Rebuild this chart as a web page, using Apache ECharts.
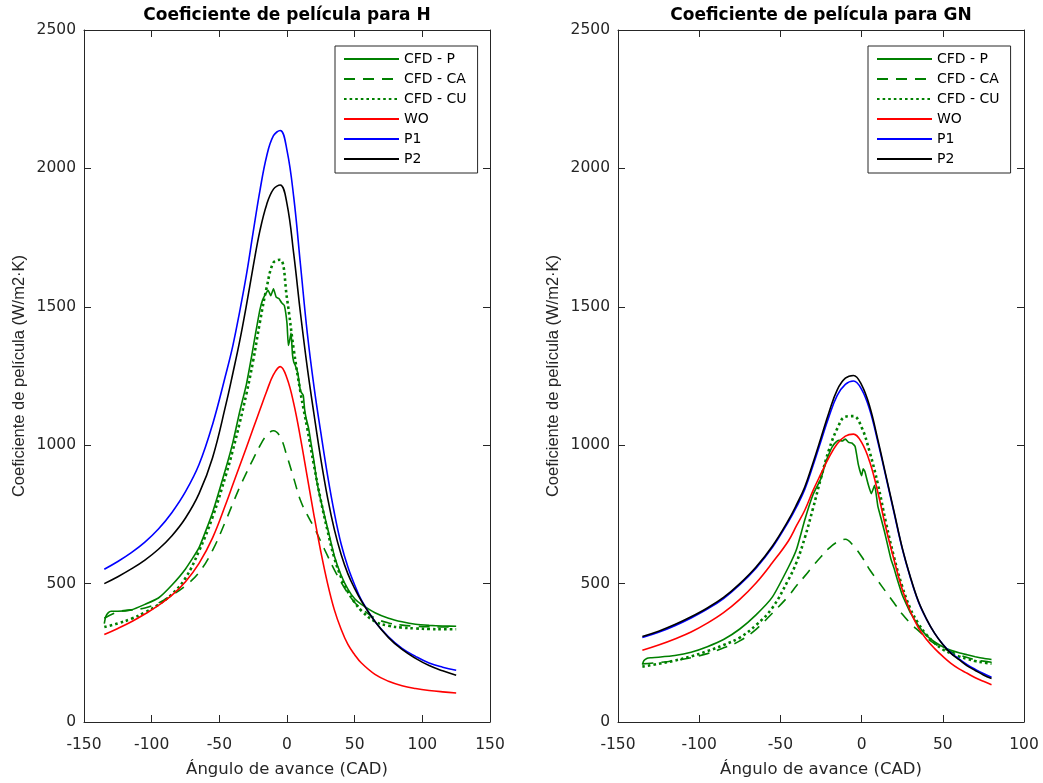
<!DOCTYPE html>
<html>
<head>
<meta charset="utf-8">
<script src="https://cdn.jsdelivr.net/npm/echarts@6/dist/echarts.min.js"></script>
<style>
html, body { margin: 0; padding: 0; background: #fff; }
#main { width: 1043px; height: 783px; }
</style>
</head>
<body>
<div id="main"></div>
<script>
// panel H (left)
var hX = [-135, -125, -115, -105, -95, -85, -75, -65, -55, -45, -40, -35, -30, -25, -20, -15, -10, -5, 0, 5, 10, 15, 20, 25, 30, 35, 40, 45, 50, 55, 65, 75, 85, 95, 105, 115, 125];
var hCA = [375, 398, 405, 412, 430, 458, 492, 540, 620, 730, 790, 848, 900, 950, 998, 1036, 1052, 1030, 960, 880, 800, 748, 703, 652, 600, 550, 505, 465, 432, 410, 375, 358, 350, 346, 344, 343, 343];
var hCU = [343, 356, 373, 396, 424, 462, 520, 618, 740, 895, 982, 1080, 1185, 1305, 1445, 1570, 1660, 1670, 1530, 1345, 1190, 1060, 925, 800, 690, 592, 522, 470, 432, 402, 363, 348, 341, 338, 336, 335, 335];
var hWO = [316, 338, 362, 390, 421, 458, 507, 573, 665, 790, 858, 925, 992, 1060, 1128, 1195, 1255, 1284, 1242, 1150, 1025, 885, 745, 615, 500, 405, 335, 280, 243, 213, 172, 147, 131, 121, 114, 109, 105];
var hP1 = [552, 580, 612, 650, 697, 757, 832, 930, 1075, 1260, 1360, 1482, 1615, 1770, 1920, 2045, 2118, 2137, 2065, 1895, 1650, 1405, 1210, 1045, 890, 755, 643, 560, 495, 440, 363, 308, 266, 237, 213, 198, 187];
var hP2 = [500, 525, 553, 585, 624, 673, 737, 825, 955, 1150, 1260, 1375, 1505, 1645, 1775, 1870, 1925, 1940, 1872, 1690, 1475, 1280, 1110, 950, 810, 695, 605, 535, 482, 437, 363, 305, 262, 230, 204, 185, 169];
// CFD - P is noisy near TDC, so it has its own angles
var hCfdPX = [-135, -134, -132, -130, -125, -115, -105, -95, -85, -75, -65, -55, -45, -40, -35, -30, -26, -23, -20, -18, -16, -14, -12, -10, -8, -6, -4, -2, 0, 1, 2, 3, 4, 5, 6, 8, 10, 12, 13, 14, 16, 18, 20, 22, 25, 30, 35, 40, 45, 50, 55, 65, 75, 85, 95, 105, 115, 125];
var hCfdP = [355, 380, 395, 400, 400, 405, 425, 448, 495, 553, 630, 757, 920, 1010, 1120, 1220, 1325, 1410, 1490, 1525, 1545, 1560, 1540, 1565, 1535, 1530, 1515, 1505, 1440, 1360, 1380, 1405, 1330, 1300, 1290, 1260, 1195, 1180, 1130, 1100, 1060, 1000, 940, 870, 800, 700, 600, 530, 480, 445, 425, 395, 375, 362, 353, 349, 347, 346];

// panel GN (right)
var gX = [-135, -125, -115, -105, -95, -85, -75, -65, -55, -45, -40, -35, -30, -25, -20, -15, -10, -5, 0, 5, 10, 15, 20, 25, 30, 35, 40, 45, 50, 55, 60, 65, 70, 75, 80];
var gCA = [210, 215, 222, 232, 247, 268, 293, 335, 393, 455, 493, 527, 563, 597, 628, 650, 660, 636, 598, 550, 510, 470, 430, 390, 357, 330, 305, 283, 267, 254, 243, 233, 225, 220, 216];
var gCU = [200, 210, 222, 237, 256, 278, 305, 350, 412, 515, 578, 665, 770, 882, 985, 1060, 1103, 1105, 1065, 975, 860, 720, 595, 490, 410, 355, 315, 285, 262, 248, 237, 228, 220, 215, 211];
var gWO = [259, 278, 300, 325, 357, 395, 443, 502, 575, 655, 710, 765, 835, 897, 957, 1005, 1033, 1040, 1010, 940, 830, 700, 585, 480, 400, 340, 298, 265, 237, 212, 192, 176, 160, 147, 135];
var gP1 = [305, 324, 348, 376, 408, 446, 496, 556, 630, 724, 778, 840, 925, 1015, 1105, 1180, 1220, 1232, 1202, 1128, 1012, 885, 755, 627, 522, 434, 371, 320, 281, 250, 228, 207, 190, 175, 162];
var gP2 = [309, 328, 352, 380, 412, 450, 500, 560, 635, 730, 786, 849, 935, 1027, 1120, 1200, 1242, 1252, 1218, 1140, 1020, 890, 760, 630, 525, 436, 372, 320, 280, 248, 225, 203, 186, 170, 157];
var gCfdPX = [-135, -134, -132, -130, -125, -115, -105, -95, -85, -75, -65, -55, -45, -40, -35, -30, -25, -22, -20, -18, -16, -14, -12, -10, -8, -6, -4, -2, 0, 1, 2, 4, 6, 8, 10, 12, 14, 16, 18, 20, 22, 25, 28, 30, 35, 40, 45, 50, 55, 60, 65, 70, 75, 80];
var gCfdP = [208, 222, 230, 232, 234, 240, 252, 272, 298, 336, 387, 451, 560, 625, 730, 820, 880, 940, 970, 995, 1010, 1018, 1015, 1022, 1010, 1008, 995, 930, 890, 915, 905, 860, 825, 855, 780, 735, 690, 640, 590, 555, 515, 460, 420, 395, 348, 312, 289, 272, 259, 250, 243, 236, 230, 226];

var legendNames = ['CFD - P', 'CFD - CA', 'CFD - CU', 'WO', 'P1', 'P2'];
var titles = ['Coeficiente de película para H', 'Coeficiente de película para GN'];

var green = '#008000';
var axisColor = '#262626';
var font = 'DejaVu Sans';

function pairs(xs, ys) {
    var arr = [];
    for (var i = 0; i < xs.length; i++) {
        arr.push([xs[i], ys[i]]);
    }
    return arr;
}

function line(name, xs, ys, panel, color, type, width, smooth) {
    return {
        name: name,
        type: 'line',
        xAxisIndex: panel * 2,
        yAxisIndex: panel * 2,
        data: pairs(xs, ys),
        symbol: 'none',
        smooth: smooth,
        lineStyle: { color: color, width: width, type: type },
        itemStyle: { color: color },
        silent: true
    };
}

function panelSeries(panel, cfdX, cfdP, xs, ca, cu, wo, p1, p2) {
    return [
        line('CFD - P', cfdX, cfdP, panel, green, 'solid', 1.6, 0.15),
        line('CFD - CA', xs, ca, panel, green, [11, 8], 1.6, 0.4),
        line('CFD - CU', xs, cu, panel, green, [2.6, 3], 2.6, 0.4),
        line('WO', xs, wo, panel, '#ff0000', 'solid', 1.6, 0.4),
        line('P1', xs, p1, panel, '#0000ff', 'solid', 1.6, 0.4),
        line('P2', xs, p2, panel, '#000000', 'solid', 1.6, 0.4)
    ];
}

function xAxes(grid, max) {
    var common = {
        type: 'value', gridIndex: grid, min: -150, max: max, interval: 50,
        axisLine: { onZero: false, lineStyle: { color: axisColor, width: 1 } },
        axisTick: { inside: true, length: 7, lineStyle: { color: axisColor } },
        splitLine: { show: false }
    };
    var bottom = echarts.util.merge({
        position: 'bottom',
        axisLabel: { margin: 15, color: axisColor, fontSize: 15.5, fontFamily: font },
        name: 'Ángulo de avance (CAD)', nameLocation: 'middle', nameGap: 39,
        nameTextStyle: { color: axisColor, fontSize: 16.5, fontFamily: font }
    }, common, true);
    var top = echarts.util.merge({ position: 'top', axisLabel: { show: false } }, common, true);
    return [bottom, top];
}

function yAxes(grid) {
    var common = {
        type: 'value', gridIndex: grid, min: 0, max: 2500, interval: 500,
        axisLine: { show: true, onZero: false, lineStyle: { color: axisColor, width: 1 } },
        axisTick: { show: true, inside: true, length: 7, lineStyle: { color: axisColor } },
        splitLine: { show: false }
    };
    var left = echarts.util.merge({
        position: 'left',
        axisLabel: {
            margin: 8, color: axisColor, fontSize: 15.5, fontFamily: font,
            formatter: function(v) { return String(v); }
        },
        name: 'Coeficiente de película (W/m2·K)', nameLocation: 'middle', nameGap: 56,
        nameTextStyle: { color: axisColor, fontSize: 16.5, fontFamily: 'Liberation Sans' }
    }, common, true);
    var right = echarts.util.merge({ position: 'right', axisLabel: { show: false } }, common, true);
    return [left, right];
}

function legendBox(left) {
    return {
        data: legendNames,
        orient: 'vertical',
        left: left,
        top: 46,
        itemWidth: 55,
        itemHeight: 14,
        itemGap: 6,
        padding: [6, 11, 7, 8],
        borderColor: axisColor,
        borderWidth: 1,
        borderRadius: 0,
        backgroundColor: '#fff',
        selectedMode: false,
        itemStyle: { opacity: 0 },
        textStyle: { color: '#000', fontSize: 14, fontFamily: font }
    };
}

function titleText(text, cx) {
    return {
        type: 'text',
        x: cx,
        y: 7,
        style: {
            text: text,
            fill: '#000',
            font: 'bold 17px "DejaVu Sans"',
            align: 'center',
            textAlign: 'center',
            verticalAlign: 'top',
            textVerticalAlign: 'top'
        }
    };
}

var chart = echarts.init(document.getElementById('main'), null, { renderer: 'canvas' });

var option = {
    animation: false,
    backgroundColor: '#fff',
    grid: [
        { left: 84, top: 30, width: 406, height: 692 },
        { left: 618, top: 30, width: 406, height: 692 }
    ],
    xAxis: xAxes(0, 150).concat(xAxes(1, 100)),
    yAxis: yAxes(0).concat(yAxes(1)),
    legend: [legendBox(335), legendBox(868)],
    graphic: [titleText(titles[0], 287), titleText(titles[1], 821)],
    series: panelSeries(0, hCfdPX, hCfdP, hX, hCA, hCU, hWO, hP1, hP2)
        .concat(panelSeries(1, gCfdPX, gCfdP, gX, gCA, gCU, gWO, gP1, gP2))
};

chart.setOption(option);
</script>
</body>
</html>
